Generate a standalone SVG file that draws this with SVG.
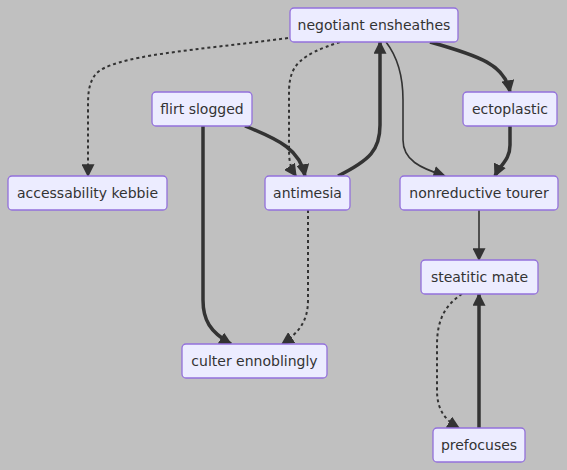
<svg xmlns="http://www.w3.org/2000/svg" width="567" height="470" viewBox="0 0 567 470">
<style>
.node rect{fill:#ECECFF;stroke:#9370DB;stroke-width:1.3}
.node text{font-family:"DejaVu Sans",Verdana,sans-serif;font-size:14px;fill:#333;text-anchor:middle;dominant-baseline:central}
.e{fill:none;stroke:#333;stroke-width:1.6}
.thick{stroke-width:3.5}
.dot{stroke-width:2;stroke-dasharray:3 3}
</style>
<defs>
<marker id="ah" viewBox="0 0 10 10" refX="9" refY="5" markerUnits="userSpaceOnUse" markerWidth="13" markerHeight="13" orient="auto">
<path d="M0,0 L10,5 L0,10 z" fill="#333"/>
</marker>
</defs>
<rect x="0" y="0" width="567" height="470" fill="#c0c0c0"/>
<g id="connectors">
<path class="e dot" d="M288,38 C200,50 110,55 95,75 C88,85 88,95 88,110 L88,176" marker-end="url(#ah)"/>
<path class="e dot" d="M340,42 C300,55 290,65 289,90 L289,150 C289,165 292,170 296,176" marker-end="url(#ah)"/>
<path class="e thick" d="M245,126 C280,140 300,150 305,176" marker-end="url(#ah)"/>
<path class="e thick" d="M338,176 C370,160 380,150 380,125 L380,42" marker-end="url(#ah)"/>
<path class="e" d="M386,42 C400,60 403,80 403,100 L403,140 C403,160 420,168 445,176" marker-end="url(#ah)"/>
<path class="e thick" d="M430,42 C480,56 505,65 510,92" marker-end="url(#ah)"/>
<path class="e thick" d="M510,126 L510,145 C510,160 500,165 495,176" marker-end="url(#ah)"/>
<path class="e" d="M479,210 L479,260" marker-end="url(#ah)"/>
<path class="e thick" d="M203,126 L203,300 C203,320 210,332 231,344" marker-end="url(#ah)"/>
<path class="e dot" d="M308,210 L308,300 C308,320 300,332 282,344" marker-end="url(#ah)"/>
<path class="e dot" d="M462,294 C445,305 437,320 437,345 L437,390 C437,410 445,420 459,428" marker-end="url(#ah)"/>
<path class="e thick" d="M479,428 L479,294" marker-end="url(#ah)"/>
</g>
<g id="negotiant" class="node"><rect x="290" y="8" width="168" height="34" rx="4"/><text x="374" y="25">negotiant ensheathes</text></g>
<g id="flirt" class="node"><rect x="152" y="92" width="100" height="34" rx="4"/><text x="202" y="109">flirt slogged</text></g>
<g id="ectoplastic" class="node"><rect x="463" y="92" width="94" height="34" rx="4"/><text x="510" y="109">ectoplastic</text></g>
<g id="accessability" class="node"><rect x="8" y="176" width="159" height="34" rx="4"/><text x="87.5" y="193">accessability kebbie</text></g>
<g id="antimesia" class="node"><rect x="265" y="176" width="85" height="34" rx="4"/><text x="307.5" y="193">antimesia</text></g>
<g id="nonreductive" class="node"><rect x="400" y="176" width="158" height="34" rx="4"/><text x="479" y="193">nonreductive tourer</text></g>
<g id="steatitic" class="node"><rect x="421" y="260" width="117" height="34" rx="4"/><text x="479.5" y="277">steatitic mate</text></g>
<g id="culter" class="node"><rect x="182" y="344" width="145" height="34" rx="4"/><text x="254.5" y="361">culter ennoblingly</text></g>
<g id="prefocuses" class="node"><rect x="433" y="428" width="92" height="34" rx="4"/><text x="479" y="445">prefocuses</text></g>
</svg>
